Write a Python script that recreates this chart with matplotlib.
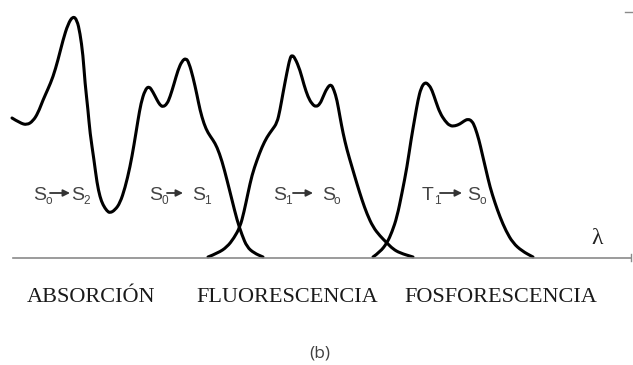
import matplotlib
matplotlib.use("Agg")
import matplotlib.pyplot as plt
from matplotlib.path import Path
from matplotlib.patches import PathPatch

# spectra, x in wavelength units (arbitrary), intensity above the baseline
abs_x = [12, 20, 27, 33, 38, 43, 48, 53, 58, 63, 68, 73, 77, 80, 83, 85, 88, 90, 94, 97,
         100, 103, 107, 110, 115, 120, 125, 130, 134, 138, 141, 145, 149, 153, 157, 160,
         163, 167, 170, 174, 178, 182, 186, 189, 193, 197, 200, 204, 208, 213, 217, 222,
         227, 232, 237, 242, 247, 254, 263]
abs_y = [140, 135, 133, 137, 145, 158, 169, 181, 198, 218, 234, 242, 238, 225, 203, 175,
         148, 125, 98, 75, 61, 53, 47, 45, 48, 55, 70, 91, 113, 138, 155, 168, 172, 166,
         158, 153, 151, 154, 161, 174, 188, 197, 200, 195, 181, 163, 148, 134, 125, 118,
         111, 97, 78, 58, 38, 23, 11, 5, 1]

flu_x = [208, 218, 227, 234, 240, 244, 248, 252, 257, 262, 267, 272, 277, 280, 283, 287,
         290, 292, 295, 300, 304, 308, 312, 316, 320, 323, 327, 331, 334, 337, 340, 343,
         347, 352, 357, 362, 367, 373, 380, 387, 393, 400, 413]
flu_y = [1, 5, 11, 20, 31, 46, 65, 83, 98, 111, 121, 128, 135, 148, 165, 186, 200, 203,
         200, 188, 173, 161, 154, 151, 154, 161, 170, 174, 168, 158, 141, 125, 108, 91,
         74, 58, 44, 31, 22, 15, 9, 5, 1]

fos_x = [373, 380, 387, 392, 397, 402, 407, 411, 415, 418, 421, 425, 429, 432, 436, 440,
         445, 450, 455, 460, 464, 468, 472, 475, 479, 482, 486, 490, 495, 500, 506, 513,
         522, 533]
fos_y = [1, 6, 15, 26, 41, 65, 91, 118, 141, 158, 170, 176, 173, 168, 156, 145, 137, 132,
         132, 134, 137, 139, 137, 131, 118, 105, 88, 71, 55, 41, 27, 15, 7, 1]

# transition labels: (from, sub, to, sub)
transitions = [("S", "o", "S", "2"), ("S", "0", "S", "1"), ("S", "1", "S", "o"), ("T", "1", "S", "o")]
regions = ["ABSORCIÓN", "FLUORESCENCIA", "FOSFORESCENCIA"]


def smooth_path(xs, ys):
    # quadratic bezier through the midpoints, points act as control points
    pts = list(zip(xs, ys))
    verts = [pts[0]]
    codes = [Path.MOVETO]
    for i in range(1, len(pts) - 1):
        mid = ((pts[i][0] + pts[i + 1][0]) / 2, (pts[i][1] + pts[i + 1][1]) / 2)
        verts += [pts[i], mid]
        codes += [Path.CURVE3, Path.CURVE3]
    verts.append(pts[-1])
    codes.append(Path.LINETO)
    return Path(verts, codes)


fig = plt.figure(figsize=(6.33, 3.65), dpi=100)
ax = fig.add_axes([0, 0, 1, 1])
ax.set_xlim(0, 633)
ax.set_ylim(-107, 258)
ax.axis("off")

for xs, ys in [(abs_x, abs_y), (flu_x, flu_y), (fos_x, fos_y)]:
    ax.add_patch(PathPatch(smooth_path(xs, ys), facecolor="none", edgecolor="black",
                           lw=2.2, joinstyle="round", capstyle="round"))

# baseline with small end tick
ax.plot([13, 631], [0, 0], color="#8a8a8a", lw=1.2)
ax.plot([631, 631], [-3, 4], color="#8a8a8a", lw=1.0)
ax.plot([625, 632], [246, 246], color="#8a8a8a", lw=1.0)
ax.text(597, 19, "λ", family="Liberation Serif", fontsize=17, ha="center", va="center", color="#222222")

# transition labels with arrows
lab_pos = [(33, 50, 70, 71), (149, 167, 183, 192), (273, 293, 313, 322), (422, 440, 462, 467)]
lab_col = "#444444"
for (a, asub, b, bsub), (xa, x0, x1, xb) in zip(transitions, lab_pos):
    ax.text(xa, 58, a, family="Liberation Sans", fontsize=14, color=lab_col, ha="left", va="baseline")
    ax.text(xa + 12, 54, asub, family="Liberation Sans", fontsize=8.5, color=lab_col, ha="left", va="baseline")
    ax.annotate("", xy=(x1, 65), xytext=(x0, 65),
                arrowprops=dict(arrowstyle="-|>", color="#333333", lw=1.3, mutation_scale=10,
                                shrinkA=0, shrinkB=0))
    ax.text(xb, 58, b, family="Liberation Sans", fontsize=14, color=lab_col, ha="left", va="baseline")
    ax.text(xb + 12, 54, bsub, family="Liberation Sans", fontsize=8.5, color=lab_col, ha="left", va="baseline")

for name, xc in zip(regions, [91, 287, 501]):
    ax.text(xc, -44, name, family="Liberation Serif", fontsize=16, color="#1a1a1a",
            ha="center", va="baseline")

ax.text(320, -96, "(b)", family="Open Sans", fontsize=12.5, color="#404040", ha="center", va="center")

fig.savefig("out.png", dpi=100)
